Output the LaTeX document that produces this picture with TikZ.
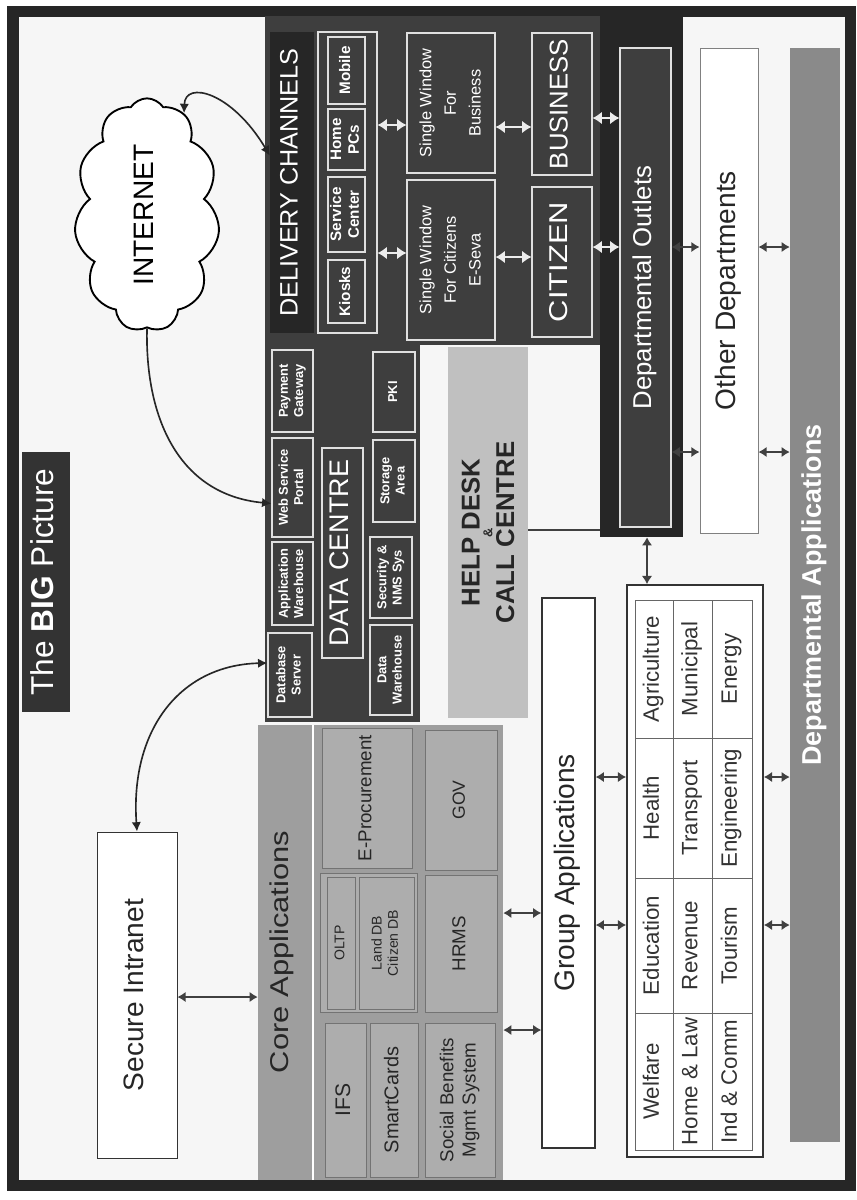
\documentclass[tikz,border=0pt]{standalone}
\usepackage{fontspec}
\setmainfont{Liberation Sans}
\usetikzlibrary{arrows.meta,shapes.symbols,calc}
\definecolor{dcdark}{RGB}{62,62,62}
\definecolor{dcdeep}{RGB}{38,38,38}
\definecolor{coregrey}{RGB}{158,158,158}
\definecolor{helpgrey}{RGB}{192,192,192}
\definecolor{appgrey}{RGB}{138,138,138}
\definecolor{paper}{RGB}{246,246,246}

\newcommand{\vtext}[2][1]{\rotatebox{90}{\scalebox{#1}[1]{\begin{tabular}{@{}c@{}}#2\end{tabular}}}}
\newcommand{\fsz}[2]{\fontsize{#1}{#2}\selectfont}

\begin{document}
\begin{tikzpicture}[
  x=0.03cm, y=-0.03cm,
  cnr/.style n args={4}{at={({(#1+#3)/2},{(#2+#4)/2})},
                        minimum width={(#3-#1)*0.03cm}, minimum height={(#4-#2)*0.03cm}},
  panel/.style={fill=dcdark, draw=none, inner sep=0pt},
  darkbox/.style={draw=white!88!black, line width=1pt, fill=dcdark, text=white, inner sep=0pt},
  litbox/.style={draw=black!80, line width=0.8pt, fill=white, inner sep=0pt, text=black!85},
  subbox/.style={draw=black!55, line width=0.8pt, fill=coregrey!85!white, text=black!85,
                 inner sep=0pt, font=\fsz{16}{19}},
  cell/.style={draw=black!60, line width=0.7pt, fill=white, inner sep=0pt, text=black!80,
               font=\fsz{19}{21}},
  lightarr/.style={<->, >={Latex[length=8pt,width=11pt]}, line width=2.5pt, draw=gray!15},
  darkarr/.style={<->, >={Latex[length=7pt,width=9pt]}, line width=2pt, draw=black!75},
  curvearr/.style={<->, >={Latex[length=8pt,width=8pt]}, line width=1.4pt, draw=black!85},
  darkline/.style={line width=1.6pt, draw=black!75},
]
\useasboundingbox (0,0) rectangle (856,1200);
\fill[white] (0,0) rectangle (856,1200);
\fill[paper] (18,16) rectangle (845,1180);
\draw[black!85, line width=0.33cm] (13,11) rectangle (850,1185);

% ---- dark panels ----
\node[panel, cnr={265}{16}{600}{345}] (dlv) {};
\node[panel, cnr={265}{345}{420}{722}] (dcr) {};
\node[panel, fill=dcdeep, cnr={600}{16}{683}{537}] (dout) {};

% ---- title ----
\node[panel, fill=black!80, text=white, font=\fsz{27}{30}, cnr={22}{452}{70}{712}] (ttl)
  {\vtext{The \textbf{BIG} Picture}};

% ---- delivery channels ----
\node[panel, fill=dcdeep, text=white, font=\fsz{21.5}{24}, cnr={270}{32}{314}{333}] (dch)
  {\vtext{DELIVERY CHANNELS}};
\node[darkbox, cnr={318}{32}{377}{333}] (chs) {};
\node[darkbox, font=\bfseries\fsz{13}{15}, cnr={328}{37}{365}{104}] (mob) {\vtext{Mobile}};
\node[darkbox, font=\bfseries\fsz{13}{15}, cnr={328}{109}{365}{170}] (hpc) {\vtext{Home\\PCs}};
\node[darkbox, font=\bfseries\fsz{13}{15}, cnr={328}{177}{365}{252}] (svc) {\vtext{Service\\Center}};
\node[darkbox, font=\bfseries\fsz{13}{15}, cnr={328}{260}{365}{323}] (ksk) {\vtext{Kiosks}};

\node[darkbox, font=\fsz{14}{21}, cnr={407}{33}{495}{173}] (swb)
  {\vtext{Single Window\\For\\Business}};
\node[darkbox, font=\fsz{14}{21}, cnr={407}{180}{495}{340}] (swc)
  {\vtext{Single Window\\For Citizens\\E-Seva}};
\node[darkbox, font=\fsz{22}{24}, cnr={532}{33}{592}{175}] (bus) {\vtext{BUSINESS}};
\node[darkbox, font=\fsz{22}{24}, cnr={532}{187}{592}{337}] (cit) {\vtext[1.2]{CITIZEN}};
\node[darkbox, font=\fsz{22}{24}, cnr={620}{48}{671}{527}] (outl) {\vtext{Departmental Outlets}};

% ---- data centre ----
\node[darkbox, font=\bfseries\fsz{11}{13}, cnr={272}{350}{313}{432}] (pay) {\vtext{Payment\\Gateway}};
\node[darkbox, font=\bfseries\fsz{11}{13}, cnr={272}{438}{313}{537}] (wsp) {\vtext{Web Service\\Portal}};
\node[darkbox, font=\bfseries\fsz{11}{13}, cnr={272}{542}{313}{625}] (apw) {\vtext{Application\\Warehouse}};
\node[darkbox, font=\bfseries\fsz{11}{13}, cnr={268}{633}{312}{717}] (dbs) {\vtext{Database\\Server}};
\node[darkbox, font=\fsz{23}{25}, cnr={322}{448}{363}{658}] (dcl) {\vtext{DATA CENTRE}};
\node[darkbox, font=\bfseries\fsz{11}{13}, cnr={373}{352}{415}{432}] (pki) {\vtext{PKI}};
\node[darkbox, font=\bfseries\fsz{11}{13}, cnr={373}{440}{415}{522}] (sta) {\vtext{Storage\\Area}};
\node[darkbox, font=\bfseries\fsz{11}{13}, cnr={370}{537}{412}{618}] (sec) {\vtext{Security \&\\NMS Sys}};
\node[darkbox, font=\bfseries\fsz{11}{13}, cnr={370}{625}{412}{715}] (dwh) {\vtext{Data\\Warehouse}};

% ---- internet and intranet ----
\node[cloud, cloud puffs=11, cloud puff arc=115, aspect=0.6, draw=black, line width=1.6pt,
      fill=white, minimum width=4.2cm, minimum height=7.0cm, inner sep=0pt,
      font=\fsz{24}{26}] (net) at (147,215) {\vtext{INTERNET}};
\node[litbox, font=\fsz{24}{26}, cnr={97}{832}{177}{1158}] (si) {\vtext{Secure Intranet}};

% ---- help desk ----
\node[panel, fill=helpgrey, text=black!85, font=\bfseries\fsz{22}{24}, cnr={448}{347}{528}{718}] (help)
  {\rotatebox{90}{\shortstack{HELP DESK\\{\fsz{11}{11}\&}\\CALL CENTRE}}};

% ---- core applications ----
\node[panel, fill=coregrey, cnr={258}{725}{503}{1180}] (core) {};
\node[text=black!85, font=\fsz{22}{24}] (corel) at (283,952) {\vtext[1.2]{Core Applications}};
\draw[white, line width=2pt] (core.north -| 313,0) -- (core.south -| 313,0);
\node[subbox, cnr={322}{728}{412}{868}] (epr) {\vtext{E-Procurement}};
\node[subbox, font=\fsz{15}{17}, cnr={425}{730}{497}{870}] (gov) {\vtext{GOV}};
\node[subbox, cnr={320}{873}{417}{1012}] (dbg) {};
\node[subbox, font=\fsz{12}{14}, cnr={327}{877}{355}{1009}] (oltp) {\vtext{OLTP}};
\node[subbox, font=\fsz{12}{14}, cnr={359}{877}{414}{1009}] (ldb) {\vtext{Land DB\\Citizen DB}};
\node[subbox, cnr={425}{875}{497}{1012}] (hrms) {\vtext{HRMS}};
\node[subbox, font=\fsz{18}{20}, cnr={325}{1023}{366}{1177}] (ifs) {\vtext{IFS}};
\node[subbox, font=\fsz{17}{19}, cnr={370}{1023}{418}{1177}] (smc) {\vtext{SmartCards}};
\node[subbox, cnr={425}{1023}{495}{1177}] (sbm) {\vtext{Social Benefits\\Mgmt System}};

% ---- group and line departments ----
\node[litbox, line width=1.2pt, font=\fsz{24}{26}, cnr={542}{598}{595}{1148}] (grp)
  {\vtext{Group Applications}};
\node[litbox, line width=1.5pt, cnr={627}{585}{763}{1157}] (lined) {};
\node[cell, cnr={635}{600}{673}{738}] (agri) {\vtext{Agriculture}};
\node[cell, cnr={673}{600}{712}{738}] (muni) {\vtext{Municipal}};
\node[cell, cnr={712}{600}{752}{738}] (ener) {\vtext{Energy}};
\node[cell, cnr={635}{738}{673}{878}] (heal) {\vtext{Health}};
\node[cell, cnr={673}{738}{712}{878}] (tran) {\vtext{Transport}};
\node[cell, cnr={712}{738}{752}{878}] (engi) {\vtext{Engineering}};
\node[cell, cnr={635}{878}{673}{1013}] (educ) {\vtext{Education}};
\node[cell, cnr={673}{878}{712}{1013}] (reve) {\vtext{Revenue}};
\node[cell, cnr={712}{878}{752}{1013}] (tour) {\vtext{Tourism}};
\node[cell, cnr={635}{1013}{673}{1150}] (welf) {\vtext{Welfare}};
\node[cell, cnr={673}{1013}{712}{1150}] (home) {\vtext{Home \& Law}};
\node[cell, cnr={712}{1013}{752}{1150}] (indc) {\vtext{Ind \& Comm}};

% ---- other departments and departmental applications ----
\node[litbox, draw=black!50, font=\fsz{24}{26}, cnr={700}{48}{758}{533}] (oth) {\vtext{Other Departments}};
\node[panel, fill=appgrey, text=white, font=\bfseries\fsz{23}{25}, cnr={790}{48}{840}{1142}] (dapp)
  {\vtext{Departmental Applications}};

% ---- connectors ----
\draw[lightarr] (chs.east |- 0,125) -- (swb.west |- 0,125);
\draw[lightarr] (chs.east |- 0,253) -- (swc.west |- 0,253);
\draw[lightarr] (swb.east |- 0,127) -- (bus.west |- 0,127);
\draw[lightarr] (swc.east |- 0,257) -- (cit.west |- 0,257);
\draw[lightarr] (bus.east |- 0,118) -- (outl.west |- 0,118);
\draw[lightarr] (cit.east |- 0,247) -- (outl.west |- 0,247);
\draw[darkarr] (outl.east |- 0,247) -- (oth.west |- 0,247);
\draw[darkarr] (outl.east |- 0,452) -- (oth.west |- 0,452);
\draw[darkarr] (oth.east |- 0,247) -- (dapp.west |- 0,247);
\draw[darkarr] (oth.east |- 0,452) -- (dapp.west |- 0,452);
\draw[darkline] (help.east |- 0,530) -- (dout.west |- 0,530);
\draw[darkarr] (dout.south -| 647,0) -- (lined.north -| 647,0);
\draw[darkarr] (grp.east |- 0,777) -- (lined.west |- 0,777);
\draw[darkarr] (grp.east |- 0,925) -- (lined.west |- 0,925);
\draw[darkarr] (lined.east |- 0,777) -- (dapp.west |- 0,777);
\draw[darkarr] (lined.east |- 0,925) -- (dapp.west |- 0,925);
\draw[darkarr] (core.east |- 0,913) -- (grp.west |- 0,913);
\draw[darkarr] (core.east |- 0,1030) -- (grp.west |- 0,1030);
\draw[darkarr] (si.east |- 0,997) -- (core.west |- 0,997);

\draw[curvearr] (net.70) .. controls (185,80) and (232,92) .. ([yshift=0.81cm]dch.west);
\draw[curvearr, ->] (net.south) .. controls (145,420) and (180,495) .. ([yshift=-0.48cm]wsp.west);
\draw[curvearr] ([yshift=0.36cm]dbs.west) .. controls (180,665) and (130,730) .. (si.north);

\end{tikzpicture}
\end{document}
